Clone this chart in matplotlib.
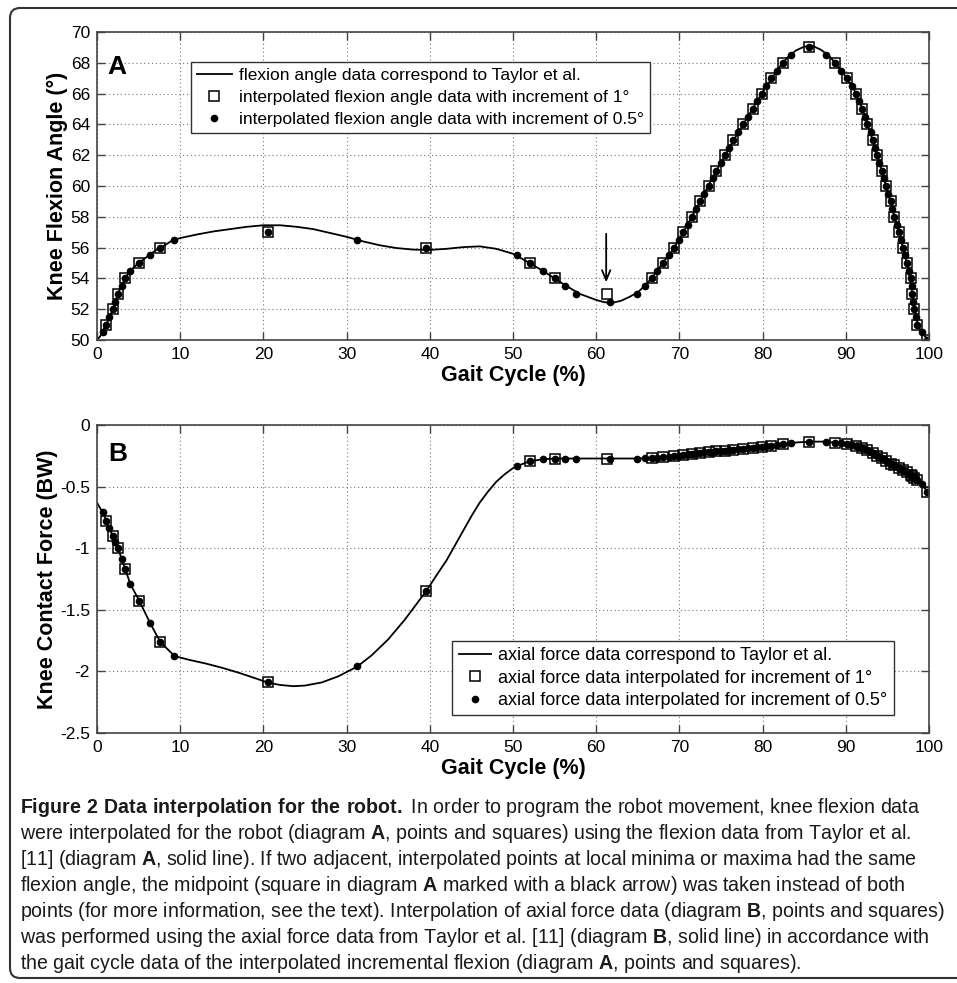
"""
Figure 2: knee flexion and axial force data interpolated for the robot.
"""

import matplotlib.pyplot as plt
from matplotlib.patches import FancyBboxPatch
from matplotlib.transforms import IdentityTransform

plt.rcParams["font.family"] = ["Liberation Sans", "DejaVu Sans"]
plt.rcParams["mathtext.fontset"] = "custom"
plt.rcParams["mathtext.rm"] = "Liberation Sans"
plt.rcParams["mathtext.bf"] = "Liberation Sans:bold"

# solid line, flexion data from Taylor et al. (diagram A)
flex_curve_x = [0, 0.4, 0.8, 1.2, 1.6, 2.0, 2.5, 3.0, 3.5, 4.0, 5.0, 6.0, 7.0, 8.0, 9.0,
                10, 12, 14, 16, 18, 20, 22, 24, 26, 28, 30, 32, 34, 36, 38, 40, 42, 44,
                46, 48, 50, 52, 54, 56, 58, 60, 61, 62, 63, 64, 65, 66, 67, 68, 69, 70,
                72, 74, 76, 78, 80, 82, 83, 84, 85, 86, 87, 88, 89, 90, 91, 92, 93, 94,
                95, 96, 97, 97.5, 98, 98.5, 99, 99.5, 100]
flex_curve_y = [50.0, 50.25, 50.7, 51.1, 51.6, 52.15, 53.0, 53.6, 54.1, 54.5, 55.0, 55.4,
                55.8, 56.1, 56.45, 56.62, 56.85, 57.05, 57.2, 57.35, 57.45, 57.45, 57.35,
                57.2, 56.95, 56.7, 56.4, 56.15, 55.97, 55.87, 55.85, 55.92, 56.03, 56.08,
                55.92, 55.6, 55.0, 54.35, 53.65, 53.0, 52.6, 52.45, 52.42, 52.55, 52.8,
                53.1, 53.6, 54.25, 55.0, 55.7, 56.55, 58.5, 60.55, 62.5, 64.3, 66.1, 67.7,
                68.35, 68.8, 69.05, 69.1, 68.85, 68.45, 67.8, 67.1, 66.25, 65.0, 63.35,
                61.6, 59.7, 57.75, 55.75, 54.6, 53.0, 51.3, 50.6, 50.25, 50.0]

# solid line, axial force data from Taylor et al. (diagram B)
force_curve_x = [0, 0.76, 1.5, 2.2, 3.0, 4.0, 5.1, 6.4, 7.6, 9.3, 11, 13, 15, 17, 19,
                 20.5, 22, 23.6, 25, 27, 29, 31.3, 33, 35, 37, 39.6, 41, 42, 43, 44, 45,
                 46, 47, 48, 49, 50, 51, 52, 53.6, 55, 58, 61, 65, 67, 70, 72.5, 75, 78,
                 80, 82.5, 84, 85.6, 87.3, 88.7, 90.1, 91.7, 93.3, 95.3, 97.3, 98.9, 100]
force_curve_y = [-0.63, -0.72, -0.84, -0.95, -1.09, -1.29, -1.43, -1.61, -1.76, -1.875,
                 -1.905, -1.935, -1.97, -2.01, -2.055, -2.09, -2.11, -2.12, -2.115, -2.09,
                 -2.04, -1.96, -1.87, -1.74, -1.58, -1.345, -1.2, -1.1, -0.98, -0.86,
                 -0.74, -0.63, -0.54, -0.46, -0.4, -0.35, -0.32, -0.295, -0.278, -0.272,
                 -0.272, -0.272, -0.272, -0.266, -0.245, -0.225, -0.21, -0.19, -0.178,
                 -0.155, -0.142, -0.135, -0.135, -0.143, -0.154, -0.178, -0.228, -0.31,
                 -0.38, -0.46, -0.56]

# points: interpolated with increment of 0.5 deg
gait_dot = [0.7, 1.1, 1.5, 1.9, 2.2, 2.5, 2.95, 3.4, 4.0, 5.1, 6.4, 7.6, 9.3, 20.5, 31.3,
            39.6, 50.5, 52.0, 53.6, 55.0, 56.3, 57.6, 61.7, 64.9, 65.9, 66.7, 67.3, 68.0,
            68.7, 69.4, 69.9, 70.4, 71.0, 71.5, 72.0, 72.5, 73.0, 73.5, 74.0, 74.4, 75.0,
            75.5, 76.0, 76.5, 77.1, 77.7, 78.2, 78.8, 79.3, 79.9, 80.4, 81.0, 81.7, 82.4,
            83.4, 85.6, 87.6, 88.7, 89.4, 90.1, 90.7, 91.2, 91.6, 92.0, 92.3, 92.6, 93.0,
            93.3, 93.55, 93.8, 94.05, 94.3, 94.55, 94.8, 95.1, 95.4, 95.6, 95.8, 96.1,
            96.4, 96.65, 96.9, 97.1, 97.3, 97.55, 97.8, 97.9, 98.0, 98.1, 98.2, 98.4,
            98.6, 99.1, 99.8]
flex_dot = [50.5, 51, 51.5, 52, 52.5, 53, 53.5, 54, 54.5, 55, 55.5, 56, 56.5, 57, 56.5,
            56, 55.5, 55, 54.5, 54, 53.5, 53, 52.5, 53, 53.5, 54, 54.5, 55, 55.5, 56,
            56.5, 57, 57.5, 58, 58.5, 59, 59.5, 60, 60.5, 61, 61.5, 62, 62.5, 63, 63.5,
            64, 64.5, 65, 65.5, 66, 66.5, 67, 67.5, 68, 68.5, 69, 68.5, 68, 67.5, 67,
            66.5, 66, 65.5, 65, 64.5, 64, 63.5, 63, 62.5, 62, 61.5, 61, 60.5, 60, 59.5,
            59, 58.5, 58, 57.5, 57, 56.5, 56, 55.5, 55, 54.5, 54, 53.5, 53, 52.5, 52,
            51.5, 51, 50.5, 50]
force_dot = [-0.71, -0.78, -0.84, -0.90, -0.95, -1.00, -1.09, -1.17, -1.29, -1.43, -1.61,
             -1.76, -1.875, -2.09, -1.96, -1.345, -0.333, -0.295, -0.278, -0.272, -0.272,
             -0.272, -0.272, -0.272, -0.270, -0.268, -0.265, -0.262, -0.257, -0.252,
             -0.248, -0.243, -0.238, -0.234, -0.229, -0.225, -0.222, -0.219, -0.216,
             -0.213, -0.210, -0.207, -0.204, -0.201, -0.197, -0.193, -0.190, -0.186,
             -0.182, -0.178, -0.174, -0.169, -0.163, -0.156, -0.147, -0.135, -0.136,
             -0.143, -0.148, -0.154, -0.162, -0.169, -0.175, -0.186, -0.196, -0.206,
             -0.218, -0.228, -0.238, -0.249, -0.259, -0.269, -0.279, -0.290, -0.302,
             -0.313, -0.320, -0.327, -0.338, -0.348, -0.357, -0.366, -0.373, -0.380,
             -0.392, -0.405, -0.410, -0.416, -0.421, -0.427, -0.438, -0.449, -0.480,
             -0.545]

# squares: interpolated with increment of 1 deg
gait_sq = [1.1, 1.9, 2.5, 3.4, 5.1, 7.6, 20.5, 39.6, 52.0, 55.0, 61.25, 66.7, 68.0, 69.4,
           70.4, 71.5, 72.5, 73.5, 74.4, 75.5, 76.5, 77.7, 78.8, 79.9, 81.0, 82.4, 85.6,
           88.7, 90.1, 91.2, 92.0, 92.6, 93.3, 93.8, 94.3, 94.8, 95.4, 95.8, 96.4, 96.9,
           97.3, 97.8, 98.0, 98.2, 98.6, 99.8]
flex_sq = [51, 52, 53, 54, 55, 56, 57, 56, 55, 54, 53, 54, 55, 56, 57, 58, 59, 60, 61, 62,
           63, 64, 65, 66, 67, 68, 69, 68, 67, 66, 65, 64, 63, 62, 61, 60, 59, 58, 57, 56,
           55, 54, 53, 52, 51, 50]
force_sq = [-0.78, -0.90, -1.00, -1.17, -1.43, -1.76, -2.09, -1.345, -0.295, -0.272,
            -0.272, -0.268, -0.262, -0.252, -0.243, -0.234, -0.225, -0.219, -0.213,
            -0.207, -0.201, -0.193, -0.186, -0.178, -0.169, -0.156, -0.135, -0.143,
            -0.154, -0.169, -0.186, -0.206, -0.228, -0.249, -0.269, -0.290, -0.313,
            -0.327, -0.348, -0.366, -0.380, -0.405, -0.416, -0.427, -0.449, -0.545]

caption_lines = [
    r"$\mathbf{Figure\ 2\ Data\ interpolation\ for\ the\ robot.}$ In order to program the robot movement, knee flexion data",
    r"were interpolated for the robot (diagram $\mathbf{A}$, points and squares) using the flexion data from Taylor et al.",
    r"[11] (diagram $\mathbf{A}$, solid line). If two adjacent, interpolated points at local minima or maxima had the same",
    r"flexion angle, the midpoint (square in diagram $\mathbf{A}$ marked with a black arrow) was taken instead of both",
    r"points (for more information, see the text). Interpolation of axial force data (diagram $\mathbf{B}$, points and squares)",
    r"was performed using the axial force data from Taylor et al. [11] (diagram $\mathbf{B}$, solid line) in accordance with",
    r"the gait cycle data of the interpolated incremental flexion (diagram $\mathbf{A}$, points and squares).",
]

W, H = 957, 983
EDGE = "#444444"


def style_axes(ax, ylim, yticks, ylabel, ylabel_x) -> None:
    """
    MATLAB-like axes: ticks inside on all sides, dotted grid.
    """
    ax.set_xlim(0, 100)
    ax.set_ylim(*ylim)
    ax.set_xticks(range(0, 101, 10))
    ax.set_yticks(yticks)
    ax.grid(True, linestyle=(0, (1, 2.5)), color="#777777", linewidth=0.8)
    ax.tick_params(direction="in", top=True, right=True, length=6, width=1,
                   labelsize=12.5, pad=5, color=EDGE)
    for spine in ax.spines.values():
        spine.set_color(EDGE)
        spine.set_linewidth(1.2)
    ax.set_xlabel("Gait Cycle (%)", fontsize=15.5, fontweight="bold")
    ax.set_ylabel(ylabel, fontsize=15.5, fontweight="bold")
    ax.xaxis.set_label_coords(0.5, -0.082)
    ax.yaxis.set_label_coords(ylabel_x, 0.5)


def plot_flexion(fig) -> None:
    ax = fig.add_axes([97 / W, 1 - 340 / H, 832 / W, 308 / H])
    ax.plot(flex_curve_x, flex_curve_y, color="black", lw=1.3,
            label="flexion angle data correspond to Taylor et al.")
    ax.plot(gait_sq, flex_sq, ls="none", marker="s", ms=6.5, mfc="none", mec="black",
            mew=1.1, label="interpolated flexion angle data with increment of 1°")
    ax.plot(gait_dot, flex_dot, ls="none", marker="o", ms=4.5, color="black",
            label="interpolated flexion angle data with increment of 0.5°")

    style_axes(ax, (50, 70), range(50, 71, 2), "Knee Flexion Angle (°)", -0.035)
    ax.text(0.013, 0.925, "A", transform=ax.transAxes, fontsize=19,
            fontweight="bold", va="top")

    # arrow pointing at the midpoint square
    ax.annotate("", xy=(61.2, 53.75), xytext=(61.2, 56.9),
                arrowprops=dict(arrowstyle="->,head_length=0.7,head_width=0.3",
                                color="black", lw=1.3, shrinkA=0, shrinkB=0))

    leg = ax.legend(loc="upper left", bbox_to_anchor=(0.113, 0.903), fontsize=12.5,
                    fancybox=False, edgecolor="#333333", framealpha=1,
                    handlelength=2.0, borderpad=0.35, labelspacing=0.38,
                    handletextpad=0.4, borderaxespad=0)
    leg.get_frame().set_linewidth(1.0)


def plot_force(fig) -> None:
    ax = fig.add_axes([97 / W, 1 - 733 / H, 832 / W, 308 / H])
    ax.plot(force_curve_x, force_curve_y, color="black", lw=1.3,
            label="axial force data correspond to Taylor et al.")
    ax.plot(gait_sq, force_sq, ls="none", marker="s", ms=6.5, mfc="none", mec="black",
            mew=1.1, label="axial force data interpolated for increment of 1°")
    ax.plot(gait_dot, force_dot, ls="none", marker="o", ms=4.5, color="black",
            label="axial force data interpolated for increment of 0.5°")

    style_axes(ax, (-2.5, 0), [-2.5, -2, -1.5, -1, -0.5, 0], "Knee Contact Force (BW)",
               -0.047)
    ax.set_yticklabels(["-2.5", "-2", "-1.5", "-1", "-0.5", "0"])
    ax.text(0.013, 0.945, "B", transform=ax.transAxes, fontsize=19,
            fontweight="bold", va="top")

    leg = ax.legend(loc="upper left", bbox_to_anchor=(0.427, 0.299), fontsize=13,
                    fancybox=False, edgecolor="#333333", framealpha=1,
                    handlelength=1.8, borderpad=0.35, labelspacing=0.3,
                    handletextpad=0.4, borderaxespad=0)
    leg.get_frame().set_linewidth(1.0)


def draw_caption(fig) -> None:
    baselines = [813, 839, 865, 891, 917, 943, 969]
    for y, line in zip(baselines, caption_lines):
        fig.text(20 / W, 1 - y / H, line, fontsize=14.15, va="baseline", ha="left",
                 color="#1a1a1a")


def main() -> None:
    fig = plt.figure(figsize=(W / 100, H / 100), dpi=100)

    frame = FancyBboxPatch((10, 5), 1000, H - 13, boxstyle="round,pad=0,rounding_size=10",
                           transform=IdentityTransform(), fill=False,
                           edgecolor="#333333", linewidth=1.5)
    fig.add_artist(frame)

    plot_flexion(fig)
    plot_force(fig)
    draw_caption(fig)

    fig.savefig("out.png", dpi=100)
    plt.close(fig)


if __name__ == "__main__":
    main()
